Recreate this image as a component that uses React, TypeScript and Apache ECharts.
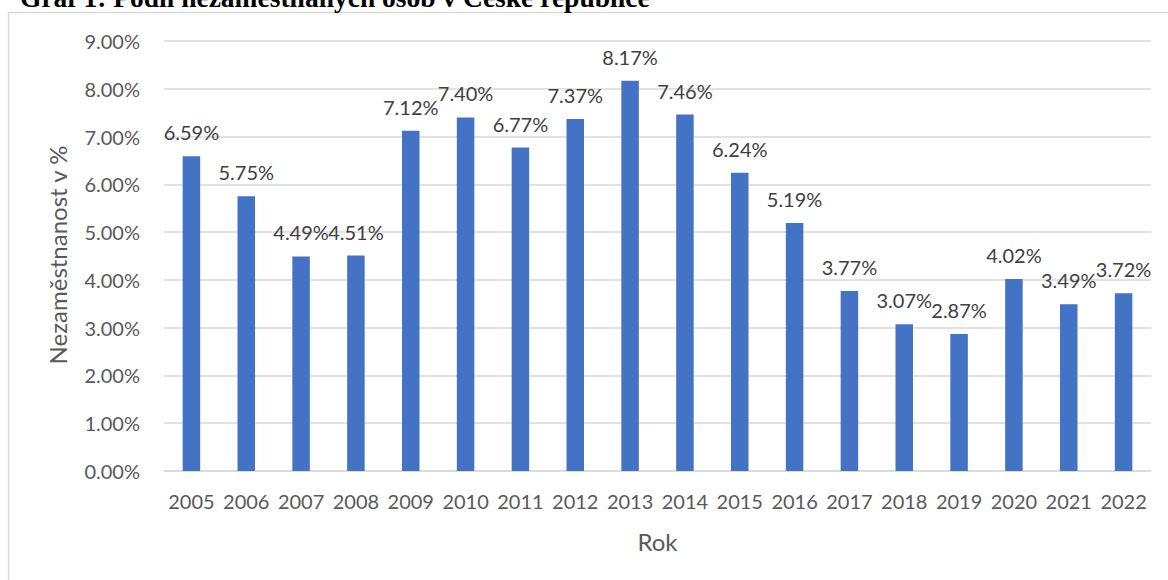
import React, { useEffect, useRef } from "react";
import * as echarts from "echarts";

const years = ["2005","2006","2007","2008","2009","2010","2011","2012","2013","2014","2015","2016","2017","2018","2019","2020","2021","2022"];
const unemployment = [6.59, 5.75, 4.49, 4.51, 7.12, 7.40, 6.77, 7.37, 8.17, 7.46, 6.24, 5.19, 3.77, 3.07, 2.87, 4.02, 3.49, 3.72];
const titleText = "Graf 1: Podíl nezaměstnaných osob v České republice";
const yAxisTitle = "Nezaměstnanost v %";
const xAxisTitle = "Rok";

export default function App() {
  const ref = useRef<HTMLDivElement>(null);
  useEffect(() => {
    if (!ref.current) return;
    const chart = echarts.init(ref.current, null, { renderer: "svg" });
    const font = "Lato, 'Noto Sans', sans-serif";
    chart.setOption({
      animation: false,
      backgroundColor: "#ffffff",
      grid: { left: 164, right: 17, top: 41, bottom: 109 },
      xAxis: {
        type: "category",
        data: years,
        axisLine: { lineStyle: { color: "#D9D9D9", width: 1.5 } },
        axisTick: { show: false },
        axisLabel: { color: "#595959", fontSize: 20, fontFamily: font, margin: 20, interval: 0 },
      },
      yAxis: {
        type: "value",
        min: 0,
        max: 9,
        interval: 1,
        axisLine: { show: false },
        axisTick: { show: false },
        splitLine: { lineStyle: { color: "#D9D9D9", width: 1.5 } },
        axisLabel: {
          color: "#595959",
          fontSize: 20,
          fontFamily: font,
          margin: 24,
          formatter: (v: number) => v.toFixed(2) + "%",
        },
      },
      series: [
        {
          type: "bar",
          data: unemployment,
          barWidth: 17.5,
          itemStyle: { color: "#4472C4" },
          label: {
            show: true,
            position: "top",
            distance: 14,
            color: "#404040",
            fontSize: 20,
            fontFamily: font,
            formatter: (p: any) => Number(p.value).toFixed(2) + "%",
          },
        },
      ],
      graphic: [
        {
          type: "rect",
          z: -10,
          shape: { x: 8.5, y: 12.5, width: 1300, height: 700 },
          style: { fill: "#ffffff", stroke: "#D9D9D9", lineWidth: 1.5 },
          silent: true,
        },
        {
          type: "text",
          x: 20,
          y: 11,
          style: {
            text: titleText,
            fill: "#000000",
            font: "bold 27.5px 'Liberation Serif', 'Times New Roman', serif",
            textAlign: "left",
            textVerticalAlign: "bottom",
          },
        },
        {
          type: "text",
          x: 57,
          y: 255,
          rotation: Math.PI / 2,
          style: {
            text: yAxisTitle,
            fill: "#595959",
            fontSize: 24,
            fontFamily: font,
            textAlign: "center",
            textVerticalAlign: "middle",
          },
        },
        {
          type: "text",
          x: 657.5,
          y: 541,
          style: {
            text: xAxisTitle,
            fill: "#595959",
            fontSize: 24,
            fontFamily: font,
            textAlign: "center",
            textVerticalAlign: "middle",
          },
        },
      ],
    });
    return () => chart.dispose();
  }, []);
  return (
    <div
      ref={ref}
      style={{ position: "absolute", left: 0, top: 0, width: 1168, height: 580 }}
    />
  );
}
